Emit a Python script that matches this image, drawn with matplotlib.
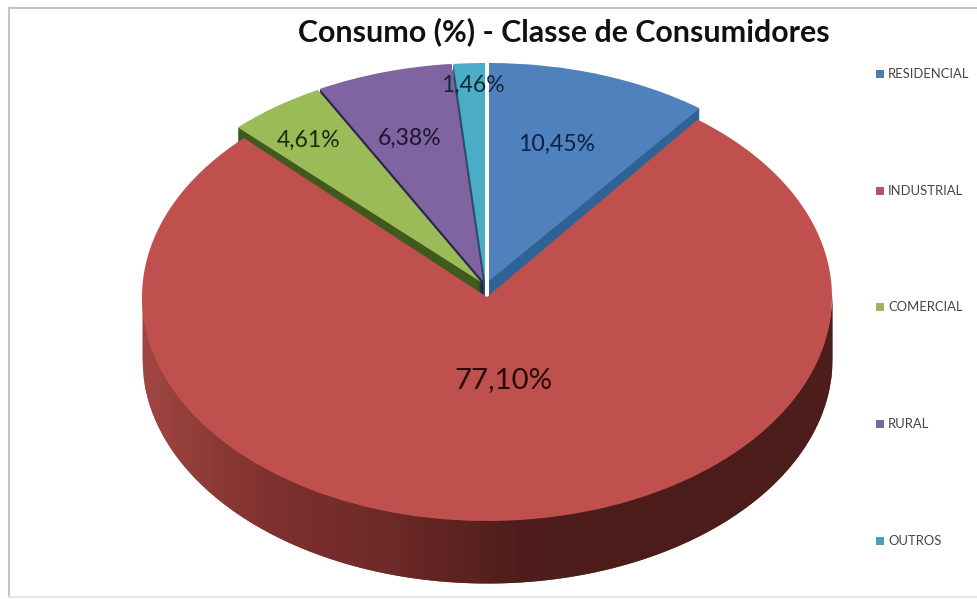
import numpy as np
import matplotlib
matplotlib.use("Agg")
import matplotlib.pyplot as plt
from matplotlib.colors import to_rgb
from matplotlib.transforms import Affine2D

categories = ["RESIDENCIAL", "INDUSTRIAL", "COMERCIAL", "RURAL", "OUTROS"]
values = [10.45, 77.10, 4.61, 6.38, 1.46]
value_labels = ["10,45%", "77,10%", "4,61%", "6,38%", "1,46%"]
top_colors = ["#4f81bd", "#c0504d", "#9bbb59", "#8064a2", "#4bacc6"]
wall_colors = ["#2f6396", "#8a3532", "#3f5a1c", "#2c2450", "#23506a"]
legend_colors = ["#4f7cac", "#b5555c", "#9db56a", "#7a6a9e", "#4a9cc0"]
title = "Consumo (%) - Classe de Consumidores"

W, H = 978, 599
CX, CY, RX, RY, DEPTH = 487, 297, 345, 224, 62

plt.rcParams["font.family"] = ["Lato", "DejaVu Sans"]
fig = plt.figure(figsize=(W / 100, H / 100), dpi=100)
ax = fig.add_axes([0, 0, 1, 1])


def px_center(x, y):
    return ((x - CX) / RX, (CY - y) / RY)


def draw_slice(index, center, color, yscale=1.0, zorder=2):
    wedges, _ = ax.pie(values, colors=[color] * len(values), startangle=90,
                       counterclock=False, center=center, radius=1.0,
                       wedgeprops={"linewidth": 0, "zorder": zorder})
    flatten = (Affine2D().translate(0, -center[1]).scale(1, yscale)
               .translate(0, center[1]))
    for i, w in enumerate(wedges):
        w.set_visible(i == index)
        w.set_transform(flatten + ax.transData)


# lifted slices: pixel centre of each slice's top face
lifted = {0: (489, 281), 2: (481, 282), 3: (483, 281), 4: (485, 281)}
LIFT_SCALE = 218 / 224
wall_order = [(4, 30), (3, 30), (2, 30), (3, 4), (0, 30)]
for idx, depth in wall_order:
    x, y = lifted[idx]
    for d in np.arange(1, depth, 1.0):
        draw_slice(idx, px_center(x, y + d), wall_colors[idx], LIFT_SCALE, zorder=2)
for idx in (4, 3, 2, 0):
    x, y = lifted[idx]
    draw_slice(idx, px_center(x, y), top_colors[idx], LIFT_SCALE, zorder=3)

# red wall, shaded along its width
stops_px = [145, 176, 268, 382, 451, 520, 700, 830]
stops_c = ["#a04642", "#96403c", "#7f302e", "#6e2a28", "#5e2321", "#4e1d1b", "#4a1c1a", "#4c1d1b"]
stops_x = [(p - CX) / RX for p in stops_px]
rgb = np.array([to_rgb(c) for c in stops_c])
xs = np.linspace(-1, 1, 301)
d = DEPTH / RY
for a, b in zip(xs[:-1], xs[1:]):
    seg = np.linspace(a, min(b + 0.006, 1), 6)
    top = -np.sqrt(np.clip(1 - seg ** 2, 0, 1))
    col = [np.interp((a + b) / 2, stops_x, rgb[:, k]) for k in range(3)]
    ax.fill_between(seg, top - d, top + 0.02, color=col, lw=0, zorder=4)
draw_slice(1, (0, 0), top_colors[1], 1.0, zorder=5)

ax.set_aspect("auto")
ax.set_xlim(-CX / RX, (W - CX) / RX)
ax.set_ylim((CY - H) / RY, CY / RY)
ax.axis("off")


def fx(x):
    return x / W


def fy(y):
    return 1 - y / H


# percent labels
label_pos = [(557, 144, 16.6, "#0b2145"), (503, 380, 21.2, "#2a0a08"), (309, 140, 16.6, "#1c2a08"),
             (410, 138, 16.6, "#1c1432"), (473, 85, 16.6, "#14283a")]
for txt, (x, y, fs, c) in zip(value_labels, label_pos):
    fig.text(fx(x), fy(y), txt, ha="center", va="center", fontsize=fs, color=c, zorder=10)

fig.text(fx(564), fy(32), title, ha="center", va="center", fontsize=21.9, fontweight="bold", color="#111111")

# legend
legend_y = [74, 191, 307, 424, 541]
for name, c, y in zip(categories, legend_colors, legend_y):
    fig.patches.append(plt.Rectangle((fx(876), fy(y + 4)), 8 / W, 8 / H, transform=fig.transFigure,
                                     color=c, lw=0, figure=fig))
    fig.text(fx(888), fy(y), name, ha="left", va="center", fontsize=9.4, color="#444444")

# outer frame
for (x0, y0, x1, y1, c) in [(9, 8, 9, 597, "#c4c4c4"), (9, 8, 978, 8, "#c4c4c4"),
                            (9, 597, 978, 597, "#e6e6e6")]:
    fig.add_artist(plt.Line2D([fx(x0), fx(x1)], [fy(y0), fy(y1)], color=c, lw=1.5))

fig.savefig("out.png", dpi=100)
